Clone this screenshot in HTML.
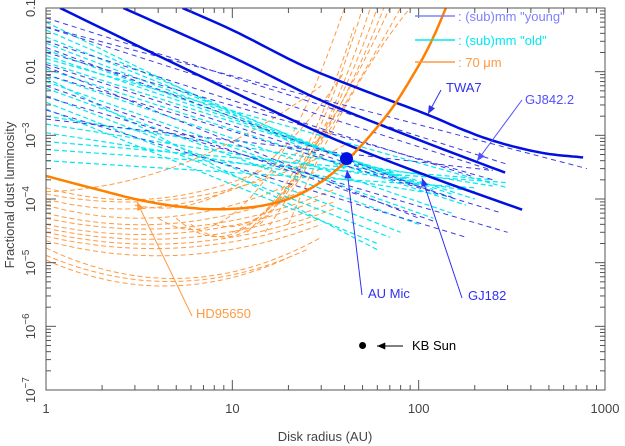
<!DOCTYPE html>
<html><head><meta charset="utf-8"><style>
body{margin:0;background:#fff}svg{display:block;font-family:"Liberation Sans",sans-serif}
</style></head><body>
<svg id="c" width="625" height="446"></svg>
<script>
// ---- data ----
const xTicks=[1,10,100,1000];
const xTickLabels=["1","10","100","1000"];
const yTickExp=[-1,-2,-3,-4,-5,-6,-7];
const twa7=[[5.4,0.1],[10,0.045],[20,0.016],[29.5,0.0095],[60,4.2e-3],[112,2.1e-3],[170,1.25e-3],[242,8.5e-4],[350,6.3e-4],[500,5.1e-4],[763,4.5e-4]];
const gj842=[[2.6,0.1],[10,0.017],[29.5,3.6e-3],[100,8.5e-4],[291,2.6e-4]];
const gj182=[[1.19,0.1],[5,0.013],[29.5,1.1e-3],[100,2.6e-4],[359,6.8e-5]];
const hd95650=[[1,2.3e-4],[2,1.35e-4],[3.1,9.8e-5],[5,7.7e-5],[8,6.9e-5],[13,7.5e-5],[20,1e-4],[29.5,1.8e-4],[41,4e-4],[55,1e-3],[74,3e-3],[100,0.0125],[120,0.035],[140,0.1]];
// cyan (old) dashed lines: [x0,y0,x1,y1]
const cyanLines=[[1,0.06,40,3e-4],[1,0.045,60,2.5e-4],[1,0.035,80,2e-4],[1,0.028,100,1.6e-4],[1,0.022,120,1.4e-4],[1,0.018,150,1.2e-4],[1,0.014,200,1e-4],[1,0.011,180,8e-5],[1,0.009,150,6e-5],[1,0.007,120,5e-5],[1,0.0055,100,4e-5],[1,0.0042,80,3e-5],[1,0.0033,70,2.5e-5],[1,0.0026,60,2e-5],[1,0.002,250,1.6e-4],[1,0.0015,200,1.3e-4],[1,0.0011,150,1.1e-4],[1,8e-4,250,2e-4],[1,6e-4,300,1.8e-4],[1,4e-4,200,1.5e-4],[1,0.016,300,1.5e-4],[1,0.008,60,1.6e-5]];
const blueLines=[[1,0.07,300,3.5e-4],[1,0.05,250,2.8e-4],[1,0.03,200,2.2e-4],[1,0.02,250,2e-4],[1,0.013,160,1e-4],[1,0.009,280,6e-5],[1,0.006,120,4.5e-5],[1,0.004,300,3e-5],[1,0.0025,180,2.5e-5],[1,0.05,800,3e-4],[1,0.012,100,5e-5],[1,0.0018,250,2.8e-4],[1,0.024,120,1.3e-4]];
// orange 70um dashed curves: three points each
const orangeCurves=[[1,1.1e-5,6,4.5e-6,20,1.2e-5],[1,1.3e-5,6,5.2e-6,25,1.6e-5],[1,1.7e-5,7,6e-6,30,2.5e-5],[1,2.2e-5,5,1.3e-5,30,4e-5],[1,2.6e-5,5,1.7e-5,30,5e-5],[1,3e-5,5,2e-5,35,7e-5],[1,3.5e-5,5,2.4e-5,35,9e-5],[1,4e-5,4,2.8e-5,30,1e-4],[1,5e-5,4,3.4e-5,35,1.4e-4],[1,6e-5,4,4e-5,30,1.8e-4],[1,8e-5,3,5e-5,30,3e-4],[1,1e-4,3,7e-5,25,5e-4],[1,1.2e-4,3,9e-5,40,7e-4],[1,1.5e-4,8,1.5e-4,35,1.2e-3],[1,1.3e-4,10,8e-4,30,6e-3],[3,8e-5,10,1.5e-4,40,0.01],[5,5e-5,20,2e-4,45,0.05],[8,4e-5,25,4e-4,55,0.1],[10,3e-5,30,1e-3,60,0.1],[12,3e-5,35,2e-3,70,0.1],[15,3e-5,40,3e-3,80,0.1],[4,5e-5,20,8e-4,40,0.1],[20,4e-5,45,5e-3,90,0.1],[6,4e-5,30,1.5e-3,50,0.1],[14,4e-5,38,3e-3,65,0.1]];
const auMic=[41,4.3e-4];
const kbSun=[50,5e-7];
// ---- axes ----
const L=46,R=605,T=8,B=390;
const X=v=>L+(Math.log10(v))*(R-L)/3;
const Y=v=>T+(-1-Math.log10(v))*(B-T)/6;
const svg=document.getElementById('c');const NS='http://www.w3.org/2000/svg';
function mk(t,a,name,p){const e=document.createElementNS(NS,t);for(const k in a)e.setAttribute(k,a[k]);


(p||svg).appendChild(e);return e;}
function pathD(pts){return pts.map((p,i)=>(i?'L':'M')+X(p[0]).toFixed(1)+' '+Y(p[1]).toFixed(1)).join('');}
function smooth(pts){const out=[];for(let i=0;i<pts.length-1;i++){for(let s=0;s<8;s++){const t=s/8;const a=pts[Math.max(i-1,0)],b=pts[i],c=pts[i+1],d=pts[Math.min(i+2,pts.length-1)];
const f=k=>{const A=Math.log10(a[k]),Bb=Math.log10(b[k]),C=Math.log10(c[k]),D=Math.log10(d[k]);return 0.5*(2*Bb+(-A+C)*t+(2*A-5*Bb+4*C-D)*t*t+(-A+3*Bb-3*C+D)*t*t*t);};
out.push([10**f(0),10**f(1)]);}}out.push(pts[pts.length-1]);return out;}
function quad(c){const lx=[c[0],c[2],c[4]].map(Math.log10),ly=[c[1],c[3],c[5]].map(Math.log10);const o=[];
for(let i=0;i<=30;i++){const x=lx[0]+(lx[2]-lx[0])*i/30;let y=0;for(let j=0;j<3;j++){let p=ly[j];for(let k=0;k<3;k++)if(k!=j)p*=(x-lx[k])/(lx[j]-lx[k]);y+=p;}
if(y>-1){o.push([10**x,0.1]);break;}o.push([10**x,10**y]);}return o;}
const clip=mk('clipPath',{id:'pc'},'plot-clip');mk('rect',{x:L,y:T,width:R-L,height:B-T},'clip-rect',clip);
const g=mk('g',{'clip-path':'url(#pc)'},'plot-area');
function plg(pts,c,w,name,dash){return mk('path',{d:pathD(pts),fill:'none',stroke:c,'stroke-width':w,'stroke-dasharray':dash||'none'},name,g);}
orangeCurves.forEach(c=>plg(quad(c),'#ff9a40',1,'orange-dashed-curve','5 3'));
cyanLines.forEach(c=>plg([[c[0],c[1]],[c[2],c[3]]],'#00e8f0',1.2,'cyan-dashed-line','5 3'));
blueLines.forEach(c=>plg([[c[0],c[1]],[c[2],c[3]]],'#3a3ae8',1,'blue-dashed-line','5 4'));
plg(smooth(twa7),'#0010e0',2.5,'twa7-line');
plg(smooth(gj842),'#0010e0',2.5,'gj842-line');
plg(smooth(gj182),'#0010e0',2.5,'gj182-line');
plg(smooth(hd95650),'#ff8000',2.5,'hd95650-curve');
mk('circle',{cx:X(auMic[0]),cy:Y(auMic[1]),r:6.5,fill:'#0010e0'},'au-mic-point');
mk('circle',{cx:X(kbSun[0]),cy:Y(kbSun[1]),r:3.5,fill:'#000'},'kb-sun-point');
// frame & ticks
mk('rect',{x:L,y:T,width:R-L,height:B-T,fill:'none',stroke:'#555','stroke-width':1},'plot-frame');
xTicks.forEach((v,i)=>{for(let m=1;m<10&&v*m<=1000;m++){const x=X(v*m),h=m==1?10:5;
mk('line',{x1:x,x2:x,y1:B,y2:B-h,stroke:'#555'},'x-tick');mk('line',{x1:x,x2:x,y1:T,y2:T+h,stroke:'#555'},'x-tick-top');}
const t=mk('text',{x:X(v),y:B+23,'font-size':13,fill:'#444','text-anchor':'middle'},'x-tick-label');t.textContent=xTickLabels[i];});
yTickExp.forEach(e=>{const v=10**e;for(let m=1;m<10&&e<-1||m==1;m++){const y=Y(v*m),h=m==1?10:5;
mk('line',{x1:L,x2:L+h,y1:y,y2:y,stroke:'#555'},'y-tick');mk('line',{x1:R,x2:R-h,y1:y,y2:y,stroke:'#555'},'y-tick-right');if(e==-1)break;}
const t=mk('text',{transform:`translate(35,${Y(v)}) rotate(-90)`,'font-size':13,fill:'#444','text-anchor':'middle'},'y-tick-label');
if(e==-1)t.textContent='0.1';else if(e==-2)t.textContent='0.01';else{t.textContent='10';const s=mk('tspan',{dy:-6,'font-size':10},'exp',t);s.textContent='\u2212'+(-e);}});
let t=mk('text',{x:325,y:441,'font-size':13,fill:'#444','text-anchor':'middle'},'x-axis-title');t.textContent='Disk radius (AU)';
t=mk('text',{transform:'translate(14,195) rotate(-90)','font-size':13,fill:'#444','text-anchor':'middle'},'y-axis-title');t.textContent='Fractional dust luminosity';
// legend
[['#8080ff',': (sub)mm "young"',16],['#00e8f0',': (sub)mm "old"',40],['#ff9a40',': 70 \u03bcm',62]].forEach((l,i)=>{
mk('line',{x1:415,x2:455,y1:l[2],y2:l[2],stroke:l[0],'stroke-width':1.5},'legend-line');
const tt=mk('text',{x:458,y:l[2]+5,'font-size':13,fill:l[0]},'legend-entry');tt.textContent=l[1];});
// annotations
function ann(x1,y1,x2,y2,c,txt,tx,ty,name){mk('line',{x1,y1,x2,y2,stroke:c,'stroke-width':1},name+'-pointer');
const a=Math.atan2(y2-y1,x2-x1),s=9;mk('path',{d:`M${x2} ${y2}L${x2-s*Math.cos(a-0.4)} ${y2-s*Math.sin(a-0.4)}L${x2-s*Math.cos(a+0.4)} ${y2-s*Math.sin(a+0.4)}Z`,fill:c},name+'-arrowhead');
const tt=mk('text',{x:tx,y:ty,'font-size':13,fill:c},name+'-label');tt.textContent=txt;}
ann(441,90,428,114,'#3030f0','TWA7',446,92,'twa7');
ann(522,100,477,161,'#5050ff','GJ842.2',525,104,'gj842');
ann(362,295,347,170,'#3030f0','AU Mic',368,298,'au-mic');
ann(462,298,422,178,'#3030f0','GJ182',468,300,'gj182');
ann(192,316,137,202,'#ff9a40','HD95650',196,318,'hd95650');
ann(403,346,377,346,'#000','KB Sun',412,350,'kb-sun');
</script></body></html>
